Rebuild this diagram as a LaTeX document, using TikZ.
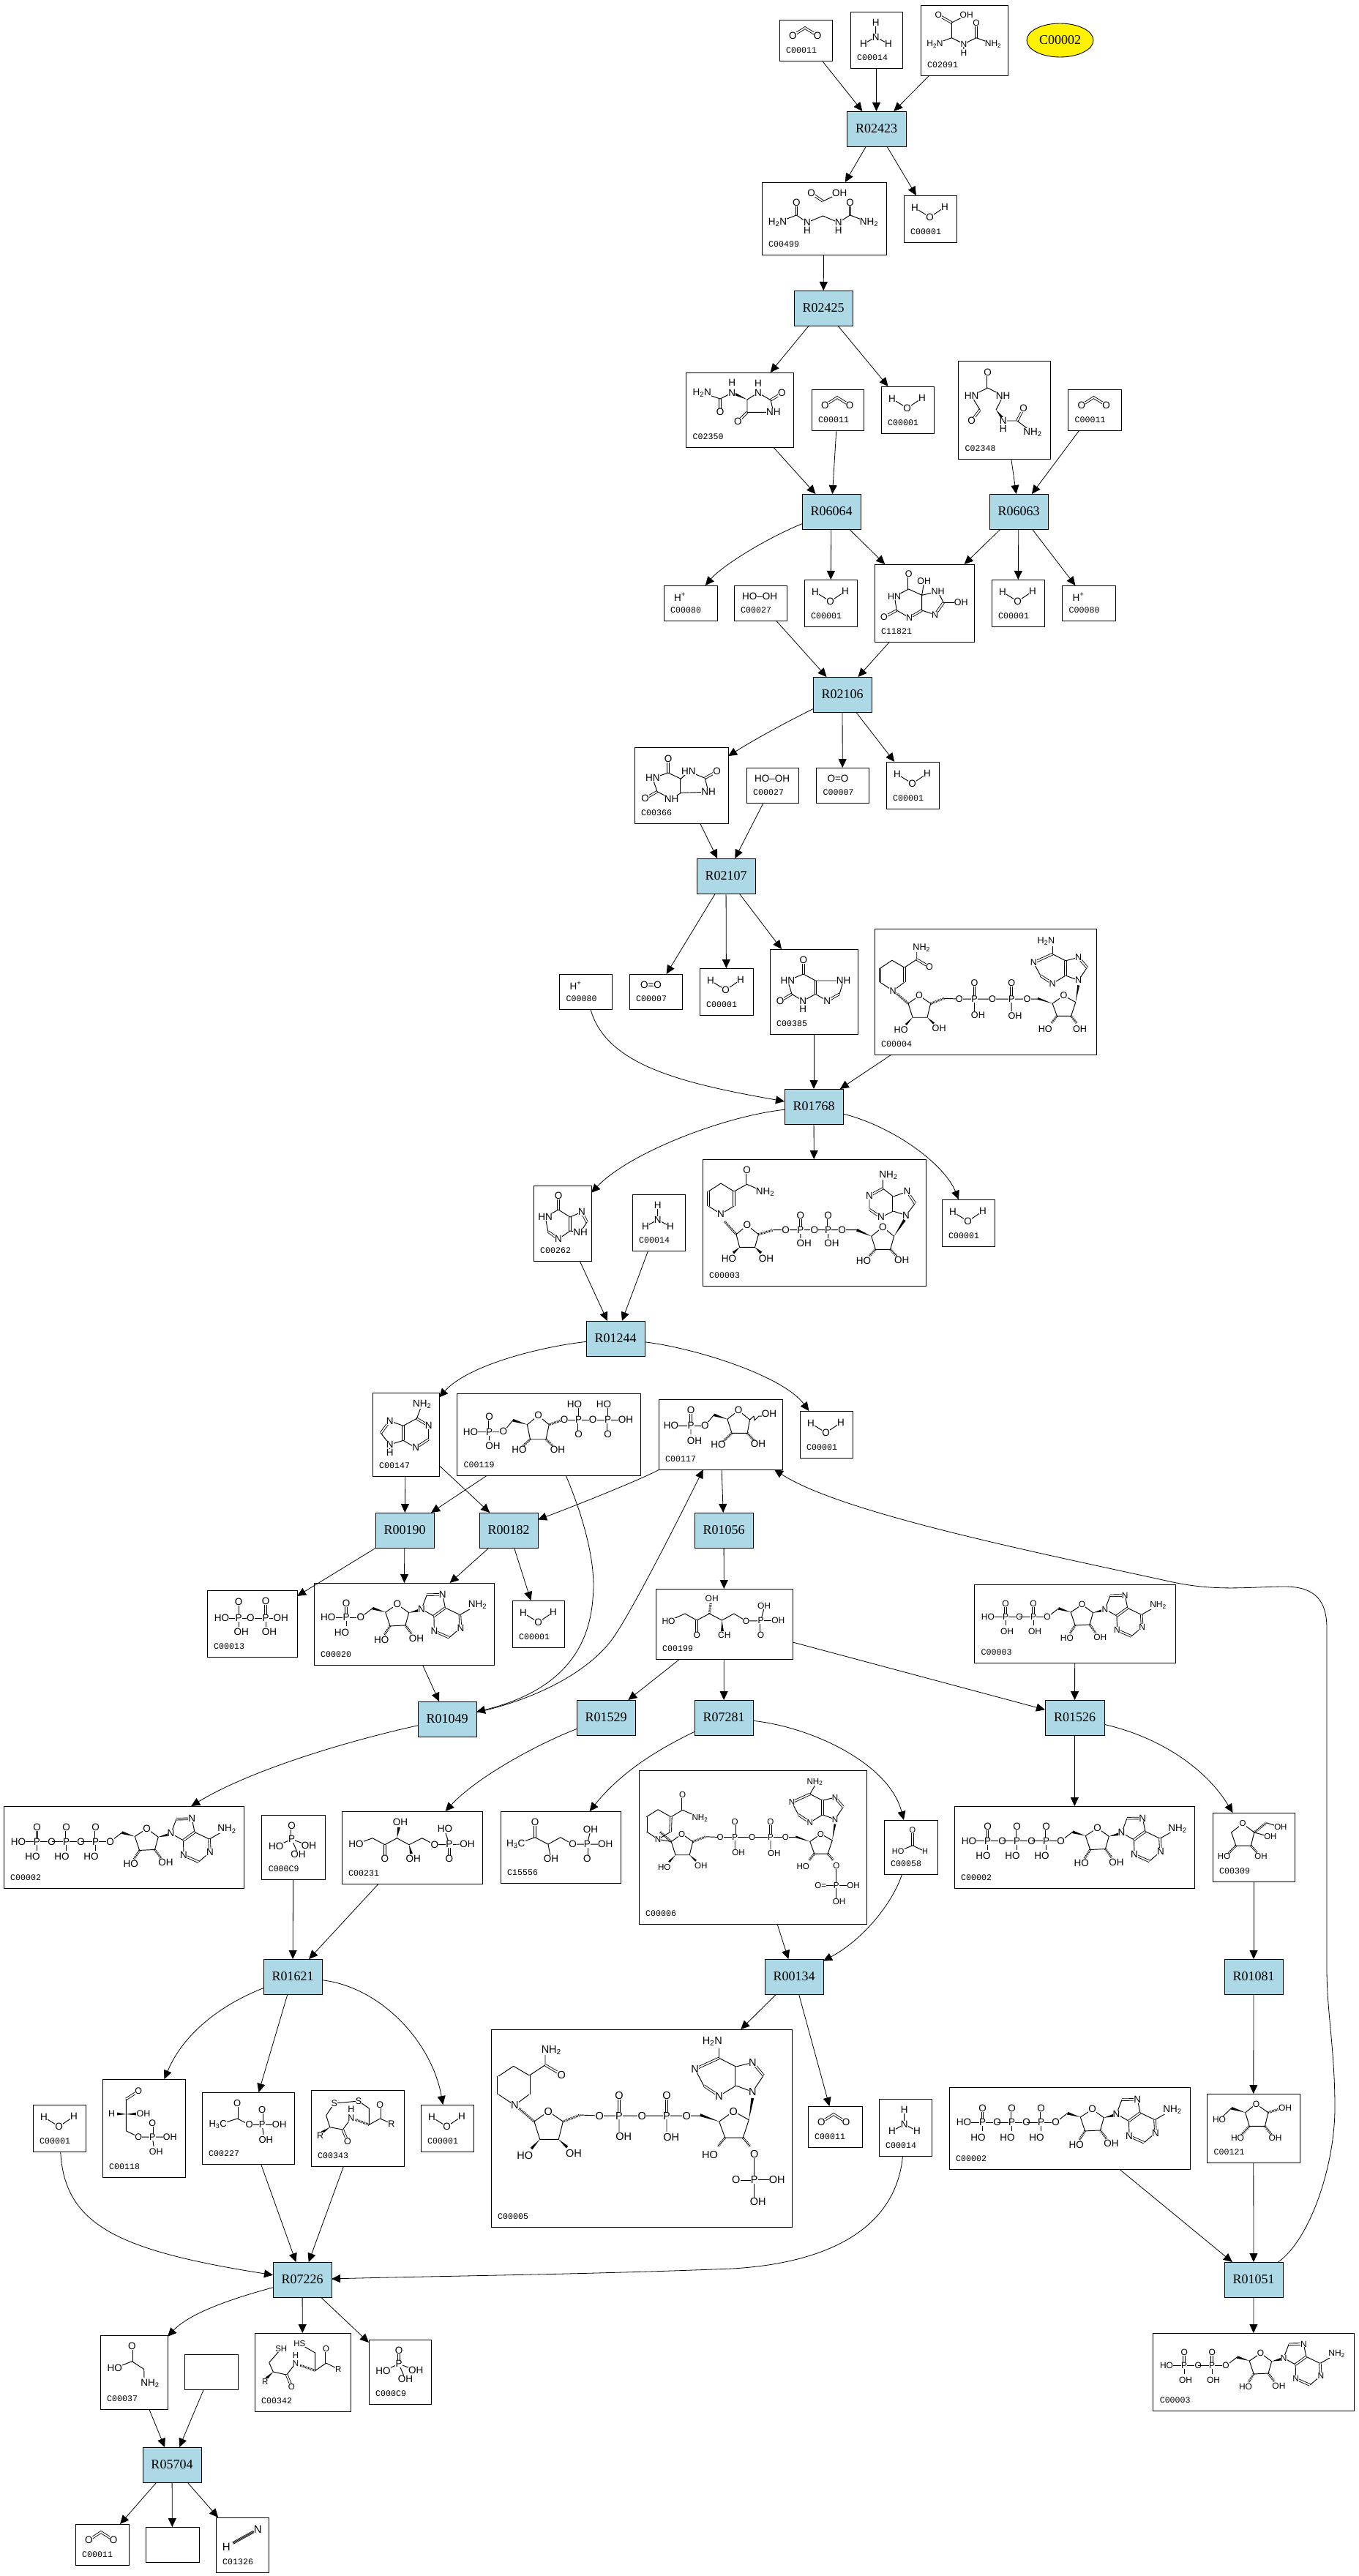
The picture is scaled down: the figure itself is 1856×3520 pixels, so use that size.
\documentclass[tikz,border=0pt]{standalone}
\usepackage{fontspec}
\setmainfont{Liberation Serif}
\newfontfamily\atomf{Liberation Sans}
\newfontfamily\lblf{Liberation Mono}
\usetikzlibrary{arrows.meta,calc,shapes.geometric}
\definecolor{rblue}{HTML}{ADD8E6}
\newcount\atc
\def\afs{13.5}
\tikzset{
 x=1pt,y=-1pt,
 cbox/.style={draw,fill=white,line width=.9pt,inner sep=0pt,outer sep=0pt},
 rbox/.style={draw,fill=rblue,line width=.9pt,inner sep=0pt,outer sep=0pt,font=\fontsize{18}{20}\selectfont},
 lbl/.style={anchor=west,inner sep=0pt,font=\lblf\fontsize{11.6}{12}\selectfont},
 atom/.style={fill=white,inner sep=.2pt,font=\atomf\fontsize{\afs}{\afs}\selectfont},
 bond/.style={line width=.95pt,line join=round},
 dbl/.style={line width=.85pt,double,double distance=1.8pt},
 hashb/.style={line width=3.2pt,dash pattern=on .8pt off 1.1pt},
 e/.style={line width=.8pt,-{Triangle[length=12pt,width=11pt]}}
}
\def\Am(#1,#2)#3{\global\advance\atc by 1\relax\node[atom] (m\the\atc) at (#1,#2) {#3};}
\newcommand\Bd[1]{\draw[bond] #1;}
\newcommand\Db[1]{\draw[dbl] #1;}
\def\Wd(#1)(#2){\fill (#1) -- ($(#2)!1.9pt!90:(#1)$) -- ($(#2)!1.9pt!-90:(#1)$) -- cycle;}
\def\Hd(#1)(#2){\draw[hashb] (#1) -- (#2);}
\newcommand\two{\textsubscript{2}}
\newcommand\Cb[7]{%
 \node[cbox,minimum width={(#4-#2)*1pt},minimum height={(#5-#3)*1pt}] (#1) at ({(#2+#4)/2},{(#3+#5)/2}) {};
 \node[lbl] (#1l) at ([shift={(9,-14)}]#1.south west) {#6};
 \def\bx{#2}\def\by{#3}#7}
\newcommand\Rb[5]{\node[rbox,minimum width={(#4-#2)*1pt},minimum height={(#5-#3)*1pt}] (#1) at ({(#2+#4)/2},{(#3+#5)/2}) {#1};}
\newcommand\Mol[4]{\begin{scope}[shift={(\bx+#2,\by+#3)},scale=#1,every node/.append style={transform shape}]#4\end{scope}}
% small molecules
\newcommand\Wat{\Mol{1}{0}{0}{\Bd{(15,17)--(35.6,29.7)--(56,16)}\Am(15,17){H}\Am(35.6,29.7){O}\Am(56,16){H}}}
\newcommand\Cot{\Mol{1}{0}{0}{\Db{(18.4,21.7)--(35,11)--(52,21.7)}\Am(18.4,21.7){O}\Am(52,21.7){O}}}
\newcommand\Nh{\Mol{1}{0}{0}{\Bd{(34.7,15)--(34.7,34.7)--(18,44) (34.7,34.7)--(52,44)}\Am(34.7,15){H}\Am(34.7,34.7){N}\Am(18,44){H}\Am(52,44){H}}}
\newcommand\Hp{\Mol{1}{0}{0}{\Am(22,15.7){H\textsuperscript{+}}}}
\newcommand\Hoh{\Mol{1}{0}{0}{\Am(35,15){HO–OH}}}
\newcommand\Oo{\Mol{1}{0}{0}{\Am(29.5,15){O=O}}}
\newcommand\PhosI{\Mol{1}{0}{0}{\Db{(41,15)--(41,33.3)}\Bd{(41,33.3)--(19.6,42.7) (41,33.3)--(64.3,41.7) (41,33.3)--(50,54.3)}\Am(41,15){O}\Am(41,33.3){P}\Am(19.6,42.7){HO}\Am(64.3,41.7){OH}\Am(50,54.3){OH}}}
% ATP family
\newcommand\PhU[3]{%
 \Bd{(#1-20,47.1)--(#1+20,47.1) (#1,47.1)--(#1,59)}\Db{(#1,47.1)--(#1,30)}
 \Am(#1,47.1){P}\Am(#1,27.5){O}\Am(#1+#3,67.5){#2}\Am(#1+20,47.1){O}}
\newcommand\RibAde{%
 \Bd{(145.5,47.1)--(161.7,34.6)}\Wd(179.3,40)(161.7,34.6)
 \Bd{(179.3,40)--(195.5,29.2)--(211.3,40.7)--(206.5,57.9)--(185.6,58.9)--cycle}
 \Hd(185.6,58.9)(178,70.7)\Hd(206.5,57.9)(215,69.6)\Wd(211.3,40.7)(225,37.5)
 \Bd{(228.6,35.7)--(236,16.1) (257.3,15.8)--(261,34) (228.6,35.7)--(245.5,45.3) (261,34)--(281,43.6)--(305,29.9) (282,61.4)--(266.4,74.7) (246,65.7)--(245.5,45.3)}
 \Db{(236,16.1)--(257.3,15.8)}\Db{(261,34)--(245.5,45.3)}\Db{(281,43.6)--(282,61.4)}\Db{(266.4,74.7)--(246,65.7)}
 \Am(145.5,47.1){O}\Am(195.5,29.2){O}\Am(173.8,77.5){HO}\Am(221.6,75.8){OH}\Am(228.6,35.7){N}\Am(257.3,15.8){N}\Am(305,29.9){NH\two}\Am(282,61.4){N}\Am(246,65.7){N}}
\newcommand\Atp[1]{\Mol{1}{0}{#1}{\PhU{45.5}{HO}{-6}\PhU{85.6}{HO}{-6}\PhU{125.6}{HO}{-6}\Am(20.1,47.1){HO}\RibAde}}
\newcommand\Adp[1]{\Mol{.95}{-38.7}{#1}{\def\afs{12.6}\PhU{85.6}{OH}{2}\PhU{125.6}{OH}{2}\Am(60.1,47.1){HO}\RibAde}}
% NAD family
\newcommand\NadCore[1]{%
 \Bd{(59,126)--(78.3,112)--(98.3,126)--(92.3,150.3)--(66.7,150.3)--cycle}
 \Hd(59,126)(38,108)\Wd(66.7,150.3)(55,163)\Wd(92.3,150.3)(104,161)\Hd(98.3,126)(121.7,117)
 \Bd{(121.7,117)--(148.3,118)--(285.7,118) (175,118)--(175,140) (240,118)--(240,140)}
 \Db{(175,118)--(175,95)}\Db{(240,118)--(240,95)}
 \Wd(311.7,126)(285.7,117)
 \Bd{(311.7,126)--(331.3,112)--(352.3,123.7)--(344.3,148)--(319.7,148)--cycle}
 \Hd(319.7,148)(310,160)\Hd(344.3,148)(354,160)\Wd(352.3,123.7)(357.3,94)
 \Bd{(357.3,85.3)--(334.7,77) (334.7,51)--(357.3,45.3) (372.3,63)--(357.3,85.3) (334.7,51)--(311.7,39.3) (311.7,91)--(334.7,77) (290.7,77)--(278.7,54.3)}
 \Db{(334.7,77)--(334.7,51)}\Db{(357.3,45.3)--(372.3,63)}\Db{(311.7,39.3)--(278.7,54.3)}\Db{(311.7,91)--(290.7,77)}
 #1
 \Am(78.3,112){O}\Am(46.3,172){HO}\Am(113,169.7){OH}\Am(148.3,118){O}\Am(175,118){P}\Am(175,90.3){O}\Am(181.3,146.3){OH}\Am(206.3,118){O}\Am(240,118){P}\Am(240,90.3){O}\Am(246.3,147){OH}\Am(267.3,118){O}\Am(331.3,112){O}\Am(299,171){HO}
 \Am(357.3,85.3){N}\Am(357.3,45.3){N}\Am(311.7,91){N}\Am(278.7,54.3){N}}
\newcommand\NicDi{%
 \Bd{(52.3,63)--(30.7,50.3)--(9.7,64.3) (9.7,88.7)--(32.3,103.7)--(52.3,88.7) (52.3,63)--(74,48.7)--(74,35)}
 \Db{(52.3,88.7)--(52.3,63)}\Db{(9.7,64.3)--(9.7,88.7)}\Db{(74,48.7)--(96.3,62)}
 \Am(96.3,62){O}\Am(82.3,28.7){NH\two}\Am(32.3,103.7){N}}
\begin{document}
\begin{tikzpicture}
\useasboundingbox (0,0) rectangle (1856,3520);
% ---- reactions
\Rb{R02423}{1157}{152}{1238}{200}
\Rb{R02425}{1085}{397}{1165}{445}
\Rb{R06064}{1096}{675}{1176}{723}
\Rb{R06063}{1352}{675}{1432}{723}
\Rb{R02106}{1111}{925}{1191}{973}
\Rb{R02107}{952}{1173}{1032}{1221}
\Rb{R01768}{1072}{1488}{1152}{1536}
\Rb{R01244}{801}{1805}{881}{1853}
\Rb{R00190}{513}{2067}{593}{2115}
\Rb{R00182}{655}{2067}{735}{2115}
\Rb{R01056}{949}{2067}{1029}{2115}
\Rb{R01049}{571}{2325}{651}{2373}
\Rb{R01529}{788}{2323}{868}{2371}
\Rb{R07281}{949}{2323}{1029}{2371}
\Rb{R01526}{1428}{2323}{1509}{2371}
\Rb{R01081}{1673}{2677}{1753}{2725}
\Rb{R01621}{360}{2677}{440}{2725}
\Rb{R00134}{1045}{2677}{1125}{2725}
\Rb{R07226}{373}{3091}{453}{3139}
\Rb{R01051}{1673}{3091}{1753}{3139}
\Rb{R05704}{195}{3344}{275}{3392}
\node[ellipse,draw,fill=yellow,line width=.9pt,inner sep=0pt,minimum width=91pt,minimum height=46pt,font=\fontsize{18}{20}\selectfont] (C00002e) at (1448.5,55) {C00002};
% ---- compounds
\Cb{Ca}{1065}{27}{1137}{83}{C00011}{\Cot}
\Cb{Cb}{1162}{16}{1233}{93}{C00014}{\Nh}
\Cb{Cc}{1258}{7}{1377}{103}{C02091}{\Mol{1}{0}{0}{%
 \Db{(24.4,13.7)--(42.4,24)}\Db{(76,44.7)--(76,24.7)}
 \Bd{(62.7,13.7)--(42.4,24)--(42.4,44.7)--(19.5,53) (42.4,44.7)--(58.9,53)--(76,44.7)--(99,53) (58.9,53)--(58.9,60)}
 \def\afs{12}\Am(24.4,13.7){O}\Am(62.7,13.7){OH}\Am(76,24.7){O}\Am(19.5,53){H\two N}\Am(58.9,53){N}\Am(58.9,65){H}\Am(99,53){NH\two}}}
\Cb{Cd}{1041}{249}{1211}{348}{C00499}{\Mol{1}{0}{0}{%
 \Db{(67.7,15)--(83.4,26)}\Db{(47.4,27.7)--(47.4,45)}\Db{(120.5,27.7)--(120.5,45)}
 \Bd{(83.4,26)--(106.3,15) (21.4,55)--(47.4,45)--(62,55)--(83.4,46)--(104.8,55)--(120.5,45)--(146.5,55)}
 \Am(67.7,15){O}\Am(106.3,15){OH}\Am(47.4,27.7){O}\Am(120.5,27.7){O}\Am(21.4,55){H\two N}\Am(62,55){N}\Am(62,66){H}\Am(104.8,55){N}\Am(104.8,66){H}\Am(146.5,55){NH\two}}}
\Cb{Ce}{1235}{267}{1307}{331}{C00001}{\Wat}
\Cb{Cf}{937.5}{509}{1084}{611}{C02350}{\Mol{1}{0}{0}{%
 \Db{(46.7,36)--(46.7,54.3)}\Db{(115.6,37.7)--(130.9,28.3)}\Db{(83.5,54.3)--(70.8,67)}
 \Bd{(21.8,27.7)--(46.7,36)--(62.8,27.7) (83.5,37)--(98.4,27.7)--(115.6,37.7)--(119.4,54.3)--(83.5,54.3)--(83.5,37)}
 \Wd(83.5,37)(66,29)
 \Am(21.8,27.7){H\two N}\Am(46.7,54.3){O}\Am(62.8,27.7){N}\Am(62.8,14.3){H}\Am(98.4,27.7){N}\Am(98.4,15){H}\Am(130.9,28.3){O}\Am(119.4,54.3){NH}\Am(70.8,67){O}}}
\Cb{Cg}{1109}{532}{1180}{588}{C00011}{\Cot}
\Cb{Ch}{1204}{528}{1276}{592}{C00001}{\Wat}
\Cb{Ci}{1309.5}{493}{1435}{627}{C02348}{\Mol{1}{0}{0}{%
 \Db{(40.2,16.3)--(40.2,37)}\Db{(29.5,67)--(18,82)}\Db{(80.4,82)--(89.2,64.7)}
 \Bd{(18,48)--(40.2,37)--(61.2,48)--(51.6,67) (18,48)--(29.5,67) (61.2,82)--(80.4,82)--(101.4,98)}
 \Wd(51.6,67)(60,78)
 \Am(40.2,16.3){O}\Am(18,48){HN}\Am(61.2,48){NH}\Am(18,82){O}\Am(61.2,82){N}\Am(61.2,93){H}\Am(89.2,64.7){O}\Am(101.4,98){NH\two}}}
\Cb{Cj}{1459.5}{532}{1532}{588}{C00011}{\Cot}
\Cb{Ck}{907}{800}{980}{848}{C00080}{\Hp}
\Cb{Cl}{1003}{800}{1075}{848}{C00027}{\Hoh}
\Cb{Cm}{1099}{792}{1171}{856}{C00001}{\Wat}
\Cb{Cn}{1195}{771}{1331}{877}{C11821}{\Mol{1}{0}{0}{\def\afs{12.5}%
 \Db{(46.7,13.3)--(46.7,34)}\Db{(30.3,63)--(13,72.3)}\Db{(47.5,73)--(64.7,63)}\Db{(94.2,52.3)--(82.7,69)}
 \Bd{(46.7,34)--(27.2,44)--(30.3,63)--(47.5,73) (64.7,63)--(64.7,42.3)--(46.7,34) (64.7,42.3)--(67.8,23.3) (64.7,42.3)--(86.6,37.3)--(94.2,52.3)--(118.3,52.3) (82.7,69)--(64.7,63)}
 \Am(46.7,13.3){O}\Am(27.2,44){HN}\Am(13,72.3){O}\Am(47.5,73){N}\Am(67.8,23.3){OH}\Am(86.6,37.3){NH}\Am(118.3,52.3){OH}\Am(82.7,69){N}}}
\Cb{Co}{1355}{792}{1427}{856}{C00001}{\Wat}
\Cb{Cp}{1451.5}{800}{1524}{848}{C00080}{\Hp}
\Cb{Cq}{867}{1021}{995}{1125}{C00366}{\Mol{1}{0}{0}{%
 \Db{(46,16.3)--(46,35)}\Db{(31,60.7)--(14.6,70)}\Db{(63.6,62.3)--(63.6,43.3)}\Db{(96.3,42.3)--(112.6,33)}
 \Bd{(46,35)--(24.8,42.3)--(31,60.7)--(50.6,70.7)--(63.6,62.3)--(101,61.3)--(96.3,42.3)--(73.8,33)--(63.6,43.3)--(46,35)}
 \Am(46,16.3){O}\Am(24.8,42.3){HN}\Am(14.6,70){O}\Am(50.6,70.7){NH}\Am(73.8,33){HN}\Am(112.6,33){O}\Am(101,61.3){NH}}}
\Cb{Cr}{1020}{1049}{1091}{1097}{C00027}{\Hoh}
\Cb{Cs}{1115.5}{1049}{1187}{1097}{C00007}{\Oo}
\Cb{Ct}{1211}{1041}{1283}{1105}{C00001}{\Wat}
\Cb{Cu}{764.5}{1331}{836}{1379}{C00080}{\Hp}
\Cb{Cv}{860}{1331}{932}{1379}{C00007}{\Oo}
\Cb{Cw}{956}{1323}{1029}{1387}{C00001}{\Wat}
\Cb{Cx}{1052}{1297}{1172}{1413}{C00385}{\Mol{1}{0}{0}{%
 \Db{(45.8,15)--(45.8,34)}\Db{(30,61.3)--(14,70.7)}\Db{(62.4,61.3)--(62.4,43)}\Db{(95,61.3)--(78.3,70.7)}
 \Bd{(45.8,34)--(24.3,43)--(30,61.3)--(45.2,70.7)--(62.4,61.3)--(78.3,70.7) (95,61.3)--(100.6,43)--(62.4,43)--(45.8,34)}
 \Am(45.8,15){O}\Am(24.3,43){HN}\Am(14,70.7){O}\Am(45.2,70.7){N}\Am(45.2,82.3){H}\Am(100.6,43){NH}\Am(78.3,70.7){N}}}
\Cb{Cy}{1195}{1269}{1498}{1441}{C00004}{\Mol{.78}{0}{4}{\def\afs{16.2}\NadCore{}\NicDi\Am(300.6,16.3){H\two N}\Bd{(311.7,39.3)--(311.7,26)}\Am(359.7,170.3){OH}}}
\Cb{Cz}{960}{1584}{1265}{1757}{C00003}{\Mol{1}{0}{0}{%
 \Bd{(43,44)--(25,33)--(8,44) (8,64)--(25,75)--(43,64) (43,44)--(60.6,34.3)--(85.4,45)}
 \Db{(43,44)--(43,64)}\Db{(8,44)--(8,64)}\Db{(60.6,15)--(60.6,34.3)}
 \Bd{(46,102.7)--(60.9,90.3)--(76.5,102.7)--(71.5,120.3)--(50.6,120.3)--cycle (96.4,96.7)--(113.6,96.7)--(210.8,96.7) (133.9,96.7)--(133.9,108) (171.7,96.7)--(171.7,108)}
 \Db{(133.9,96.7)--(133.9,80)}\Db{(171.7,96.7)--(171.7,80)}
 \Hd(46,102.7)(30,85)\Hd(76.5,102.7)(96.4,96.7)\Wd(50.6,120.3)(42,128)\Wd(71.5,120.3)(80,128)
 \Wd(230.7,105.3)(210.8,96.7)
 \Bd{(230.7,105.3)--(246.3,92.7)--(261.6,105.3)--(256.6,123.3)--(236.3,123.3)--cycle}
 \Hd(236.3,123.3)(228,132)\Hd(256.6,123.3)(265,132)\Wd(261.6,105.3)(276,83)
 \Bd{(278.1,76.7)--(260.6,71) (279.5,44.3)--(260.6,51) (290.4,60.3)--(278.1,76.7) (260.6,51)--(246.3,40)--(246.3,28) (244,79.3)--(260.6,71) (228,68.7)--(228,50)}
 \Db{(260.6,71)--(260.6,51)}\Db{(279.5,44.3)--(290.4,60.3)}\Db{(246.3,40)--(228,50)}\Db{(244,79.3)--(228,68.7)}
 \Am(60.6,15){O}\Am(85.4,45){NH\two}\Am(25,75){N}\Am(60.9,90.3){O}\Am(36,136){HO}\Am(87,136){OH}
 \Am(113.6,96.7){O}\Am(133.9,96.7){P}\Am(133.9,76.7){O}\Am(138.8,115.3){OH}\Am(152.8,96.7){O}\Am(171.7,96.7){P}\Am(171.7,76.7){O}\Am(176.6,115.3){OH}\Am(190.6,96.7){O}
 \Am(246.3,92.7){O}\Am(220,139.3){HO}\Am(272.2,138.3){OH}\Am(278.1,76.7){N}\Am(279.5,44.3){N}\Am(244,79.3){N}\Am(228,50){N}\Am(253.9,21.7){NH\two}}}
\Cb{Daa}{1287}{1639}{1359}{1703}{C00001}{\Wat}
\Cb{Dab}{729}{1620}{808}{1723}{C00262}{\Mol{1}{0}{0}{%
 \Db{(34,14)--(34,33)}\Db{(50,62)--(50,43)}\Db{(20,63)--(34,73)}\Db{(66,36)--(73,50)}
 \Bd{(34,33)--(16,43)--(20,63) (34,73)--(50,62) (50,43)--(34,33) (50,43)--(66,36) (73,50)--(64,64)--(50,62)}
 \Am(34,14){O}\Am(16,43){HN}\Am(34,73){N}\Am(66,36){N}\Am(64,64){NH}}}
\Cb{Dac}{864}{1632}{936}{1709}{C00014}{\Nh}
\Cb{Dad}{509}{1903}{600}{2017}{C00147}{\Mol{1}{0}{0}{%
 \Db{(60.4,35.3)--(76.7,45.3)}\Db{(76.7,63.7)--(59.2,75.3)}\Db{(42,65.3)--(42,45.3)}\Db{(23.7,38.7)--(11.4,55.3)}
 \Bd{(67.7,16)--(60.4,35.3)--(42,45.3)--(23.7,38.7) (76.7,45.3)--(76.7,63.7) (59.2,75.3)--(42,65.3)--(23.7,71)--(11.4,55.3) (23.7,71)--(23.7,82)}
 \Am(67.7,16){NH\two}\Am(76.7,45.3){N}\Am(59.2,75.3){N}\Am(23.7,38.7){N}\Am(23.7,71){N}\Am(23.7,82){H}}}
\Cb{Dae}{624.5}{1904}{875}{2016}{C00119}{\Mol{1}{0}{0}{%
 \Bd{(18.4,52.7)--(63.3,52.7)--(76.3,36.7) (44.1,52.7)--(44.1,64)}\Db{(44.1,52.7)--(44.1,34)}
 \Wd(95.9,42.7)(76.3,36.7)
 \Bd{(95.9,42.7)--(111,30.3)--(125.7,42.7)--(121.6,62.7)--(100,62.7)--cycle}
 \Hd(100,62.7)(90,72)\Hd(121.6,62.7)(131,72)\Hd(125.7,42.7)(142,37)
 \Bd{(146.5,36)--(230.6,36) (166.1,36)--(166.1,20) (206.1,36)--(206.1,20)}
 \Db{(166.1,36)--(166.1,56)}\Db{(206.1,36)--(206.1,56)}
 \Am(18.4,52.7){HO}\Am(44.1,52.7){P}\Am(44.1,32){O}\Am(49,72){OH}\Am(63.3,52){O}\Am(111,30.3){O}\Am(84.9,77){HO}\Am(137.5,77){OH}\Am(146.5,36){O}\Am(166.1,36){P}\Am(160.4,15.3){HO}\Am(166.1,56){O}\Am(185.7,36){O}\Am(206.1,36){P}\Am(200.4,15.3){HO}\Am(206.1,56){O}\Am(230.6,36){OH}}}
\Cb{Daf}{900}{1912}{1069}{2008}{C00117}{\Mol{1}{0}{0}{%
 \Bd{(17.1,36.3)--(63.3,36.3)--(75.5,21.3) (44,36.3)--(44,48)}\Db{(44,36.3)--(44,18)}
 \Wd(93.9,27.3)(75.5,21.3)
 \Bd{(93.9,27.3)--(109,15.3)--(124.5,28)--(121.2,46.3)--(100,46.3)--cycle}
 \Hd(100,46.3)(88,58)\Hd(121.2,46.3)(131,57)
 \draw[bond] (124.5,28)--(130,23)--(131,29)--(137,23)--(141,23);
 \Am(17.1,36.3){HO}\Am(44,36.3){P}\Am(44,15.3){O}\Am(49,57){OH}\Am(63.3,36.3){O}\Am(109,15.3){O}\Am(151,20){OH}\Am(81.6,62){HO}\Am(135.9,61.3){OH}}}
\Cb{Dag}{1093}{1928}{1165}{1992}{C00001}{\Wat}
\Cb{Dah}{283}{2173}{406}{2264}{C00013}{\Mol{1}{0}{0}{%
 \Bd{(20,38.3)--(100.7,38.3) (43,38.3)--(43,15.7) (43,38.3)--(43,50) (80,38.3)--(80,50)}\Db{(80,38.3)--(80,19)}
 \Am(20,38.3){HO}\Am(43,38.3){P}\Am(43,15.7){O}\Am(46.7,56.7){OH}\Am(59.4,38.3){O}\Am(80,38.3){P}\Am(80,15){O}\Am(85,56.7){OH}\Am(100.7,38.3){OH}}}
\Cb{Dai}{429}{2163}{675}{2275}{C00020}{\Mol{1}{-81.6}{0}{\PhU{125.6}{HO}{-6}\Am(100.8,47.1){HO}\RibAde}}
\Cb{Daj}{700}{2187}{771}{2251}{C00001}{\Wat}
\Cb{Dak}{896}{2171}{1083}{2267}{C00199}{\Mol{1}{0}{0}{\def\afs{12}%
 \Bd{(17.5,44)--(39.9,34)--(56.2,43)--(73.4,34)--(90.5,43)--(106.9,34)--(123.6,44)--(167.3,43.3) (143.6,43.3)--(148,27)}
 \Db{(56.2,43)--(56.2,63.3)}\Db{(143.6,43.3)--(143.6,63.3)}
 \Hd(73.4,34)(75,20)\Wd(90.5,43)(91,58)
 \Am(17.5,44){HO}\Am(56.2,63.3){O}\Am(76.7,13.3){OH}\Am(93.8,63.3){CH}\Am(123.6,44){O}\Am(143.6,43.3){P}\Am(148,23.3){OH}\Am(167.3,43.3){OH}\Am(143.6,63.3){O}}}
\Cb{Dal}{5}{2468}{333.5}{2580}{C00002}{\Atp{1.5}}
\Cb{Dam}{357.6}{2480}{444}{2568}{C000C9}{\PhosI}
\Cb{Dan}{467}{2475}{659}{2574}{C00231}{\Mol{1}{0}{0}{%
 \Bd{(19.6,45)--(41.9,36.7)--(58.9,45.7)--(75.4,36.7)--(91.9,45.7)--(109.8,36.7)--(126.8,45.7) (126.8,45.7)--(171.4,45) (146.8,45)--(142,30)}
 \Db{(58.9,45.7)--(58.9,65)}\Db{(146.8,45)--(146.8,65)}
 \Wd(75.4,36.7)(78,22)\Wd(91.9,45.7)(95,58)
 \Am(19.6,45){HO}\Am(58.9,65){O}\Am(79.9,15){OH}\Am(97.7,65){OH}\Am(126.8,45.7){O}\Am(146.8,45){P}\Am(141,24.3){HO}\Am(171.4,45){OH}\Am(146.8,65){O}}}
\Cb{Dao}{684}{2475}{848}{2573}{C15556}{\Mol{1}{0}{0}{%
 \Db{(47.1,15)--(47.1,35.7)}\Db{(118.3,45)--(118.3,65)}
 \Bd{(20.7,45)--(47.1,35.7)--(64.9,45)--(81.9,35.7)--(98.5,45)--(143.2,45) (64.9,45)--(68.9,65) (118.3,45)--(122,30)}
 \Am(47.1,15){O}\Am(20.7,45){H\textsubscript{3}C}\Am(68.9,65){OH}\Am(98.5,45){O}\Am(118.3,45){P}\Am(123,25){OH}\Am(143.2,45){OH}\Am(118.3,65){O}}}
\Cb{Dap}{873}{2419}{1184}{2629}{C00006}{\Mol{.75}{0}{3}{\def\afs{15.5}%
 \NadCore{\Bd{(58.5,80.9)--(34.8,67.6) (13.7,107.6)--(34.8,121.7) (58.5,80.9)--(79.6,68.4)--(111.2,82.7) (57.5,108.4)--(34.8,121.7) (13.7,80.9)--(34.8,67.6)}\Db{(58.5,80.9)--(57.5,108.4)}\Db{(13.7,80.9)--(13.7,107.6)}\Db{(79.6,40.4)--(79.6,68.4)}\Bd{(59,126)--(34.8,121.7)}\Bd{(311.7,39.3)--(320.5,24)}\Bd{(359.7,170.3)--(359.7,235) (334.7,205.3)--(390.7,205.3)}}
 \Am(79.6,40.4){O}\Am(111.2,82.7){NH\two}\Am(34.8,121.7){N}\Am(320.5,17.3){NH\two}\Am(359.7,170.3){O}\Am(359.7,205.3){P}\Am(331,205.3){O=}\Am(390.7,205.3){OH}\Am(364.7,235.3){OH}}}
\Cb{Daq}{1208}{2487}{1281}{2561}{C00058}{\Mol{1}{0}{0}{\def\afs{11}%
 \Db{(39,13.7)--(39,34.7)}\Bd{(19.2,43)--(39,34.7)--(56,43)}\Am(39,13.7){O}\Am(19.2,43){HO}\Am(56,43){H}}}
\Cb{Dar}{1331.5}{2165}{1606}{2272}{C00003}{\Adp{0}}
\Cb{Das}{1304}{2468}{1632.6}{2580}{C00002}{\Atp{0.6}}
\Cb{Dat}{1657}{2477}{1769}{2571}{C00309}{\Mol{1}{0}{0}{\def\afs{11.5}%
 \Bd{(41,14.8)--(25.6,26.9)--(31.8,45)--(52.4,45)--(56.8,26.9)--(41,14.8) (56.8,26.9)--(78.9,33) (73.4,13.7)--(92.9,20)}
 \Hd(56.8,26.9)(73.4,13.7)\Hd(31.8,45)(22,55)\Hd(52.4,45)(61,55)
 \Am(41,14.8){O}\Am(92.9,20){OH}\Am(78.9,33){OH}\Am(15.6,60){HO}\Am(66,60){OH}}}
\Cb{Dau}{671}{2773}{1082}{3043}{C00005}{\Mol{1}{0}{0}{\def\afs{14.5}%
 \NadCore{\Bd{(311.7,39.3)--(311.7,26) (359.7,170.3)--(359.7,235) (348,205.3)--(390.7,205.3)}\Db{(334.7,205.3)--(359.7,205.3)}}\NicDi
 \Am(302.3,16.3){H\two N}\Am(359.7,170.3){O}\Am(359.7,205.3){P}\Am(334.7,205.3){O}\Am(390.7,205.3){OH}\Am(364.7,235.3){OH}}}
\Cb{Dav}{140}{2841}{253}{2975}{C00118}{\Mol{1}{0}{0}{\def\afs{12.5}%
 \Db{(32.3,27.3)--(49.3,16.3)}\Db{(68.3,79)--(68.3,60)}
 \Bd{(32.3,27.3)--(32.3,70.7)--(49.3,79)--(92.3,79) (68.3,79)--(70,92)}
 \Wd(32.3,48)(20,47.5)\Wd(32.3,48)(46,47.5)
 \Am(49.3,16.3){O}\Am(12.7,47.3){H}\Am(56,47.3){OH}\Am(49.3,79){O}\Am(68.3,79){P}\Am(68.3,60){O}\Am(92.3,79){OH}\Am(73.3,99){OH}}}
\Cb{Daw}{276}{2859}{402}{2957}{C00227}{\Mol{1}{0}{0}{\def\afs{13}%
 \Db{(48.3,15)--(48.3,36)}\Db{(82.3,44.3)--(82.3,24.3)}
 \Bd{(21.7,44.3)--(48.3,36)--(64.7,44.3)--(105.7,44.3) (82.3,44.3)--(84,58)}
 \Am(48.3,15){O}\Am(21.7,44.3){H\textsubscript{3}C}\Am(64.7,44.3){O}\Am(82.3,44.3){P}\Am(82.3,24.3){O}\Am(105.7,44.3){OH}\Am(87.3,65){OH}}}
\Cb{Dax}{425}{2856}{552}{2960}{C00343}{\Mol{1}{0}{0}{\def\afs{12.5}%
 \Bd{(31.7,18)--(65,15) (31.7,18)--(20.7,34.7)--(25.7,50.7)--(43.3,54)--(55,38.3) (65,15)--(79.3,25)--(79.3,47.3)--(94.3,39)--(110,45.7)}
 \Db{(43.3,54)--(50,70)}\Db{(94.3,39)--(94.3,20)}
 \Wd(25.7,50.7)(15,58)\Hd(79.3,47.3)(60,40)
 \Am(31.7,18){S}\Am(65,15){S}\Am(12.7,61.7){R}\Am(50,70){O}\Am(55,38.3){N}\Am(55,25.7){H}\Am(94.3,20){O}\Am(110,45.7){R}}}
\Cb{Day}{45}{2876}{117}{2940}{C00001}{\Wat}
\Cb{Daz}{575}{2876}{647}{2940}{C00001}{\Wat}
\Cb{Dba}{1104}{2878}{1178}{2934}{C00011}{\Cot}
\Cb{Dbb}{1201}{2868}{1273}{2946}{C00014}{\Nh}
\Cb{Dbc}{1297}{2852}{1626}{2964}{C00002}{\Atp{1}}
\Cb{Dbd}{1649.5}{2861}{1776}{2955}{C00121}{\Mol{1}{0}{0}{\def\afs{12}%
 \Bd{(16.5,35.7)--(33.1,19.7) (52.2,25.7)--(66.9,14)--(83.4,25.7)--(79,44.3)--(57.7,44.3)--(52.2,25.7)}
 \Wd(52.2,25.7)(33.1,19.7)\Hd(83.4,25.7)(98,21)\Hd(57.7,44.3)(47,56)\Hd(79,44.3)(88,56)
 \Am(16.5,35.7){HO}\Am(66.9,14){O}\Am(106.6,19.7){OH}\Am(41.5,60.7){HO}\Am(93,60.7){OH}}}
\Cb{Dbe}{1575.6}{3188}{1850}{3294}{C00003}{\Adp{0}}
\Cb{Dbf}{137}{3191}{229}{3292}{C00037}{\Mol{1}{0}{0}{%
 \Db{(43.3,15)--(43.3,35.7)}\Bd{(19.7,45)--(43.3,35.7)--(59.7,46.3)--(60,58)}
 \Am(43.3,15){O}\Am(19.7,45){HO}\Am(68,65.7){NH\two}}}
\node[cbox,minimum width=73pt,minimum height=48pt] (Blanka) at (288.5,3241) {};
\Cb{Dbg}{348}{3188}{479}{3295}{C00342}{\Mol{1}{0}{0}{\def\afs{11.5}%
 \Bd{(36.3,21.3)--(19.7,40.3)--(25.3,53)--(43.7,57)--(56,41.3) (61.3,14.7)--(82.7,27)--(82.7,51.3)--(97.7,41)--(114.3,49.3)}
 \Db{(43.7,57)--(50.3,73)}\Db{(97.7,41)--(97.7,21.3)}
 \Wd(25.3,53)(16,62)\Hd(82.7,51.3)(62,44)
 \Am(36.3,21.3){SH}\Am(61.3,14.7){HS}\Am(14.3,66.3){R}\Am(50.3,73){O}\Am(56,41.3){N}\Am(56,30.3){H}\Am(97.7,21.3){O}\Am(114.3,49.3){R}}}
\Cb{Dbh}{504}{3197}{589}{3285}{C000C9}{\PhosI}
\Cb{Dbi}{103}{3449}{176}{3505}{C00011}{\Cot}
\node[cbox,minimum width=73pt,minimum height=48pt] (Blankb) at (235.5,3477) {};
\Cb{Dbj}{295}{3440}{367}{3515}{C01326}{\Mol{1}{0}{0}{\def\afs{15}%
 \Db{(23.3,35)--(51.7,19.3)}\Bd{(23.3,35)--(51.7,19.3)}\Am(14.3,40.7){H}\Am(57.3,16){N}}}
% ---- connectors
\draw[e] (Ca)--(R02423);
\draw[e] (Cb)--(R02423);
\draw[e] (Cc)--(R02423);
\draw[e] (R02423)--(Cd);
\draw[e] (R02423)--(Ce);
\draw[e] (Cd)--(R02425);
\draw[e] (R02425)--(Cf);
\draw[e] (R02425)--(Ch);
\draw[e] (Cf)--(R06064);
\draw[e] (Cg)--(R06064);
\draw[e] (Ci)--(R06063);
\draw[e] (Cj)--(R06063);
\draw[e] (R06064) .. controls (1040,739) and (985,775) .. (Ck);
\draw[e] (R06064)--(Cm);
\draw[e] (R06064)--(Cn);
\draw[e] (R06063)--(Cn);
\draw[e] (R06063)--(Co);
\draw[e] (R06063)--(Cp);
\draw[e] (Cl)--(R02106);
\draw[e] (Cn)--(R02106);
\draw[e] (R02106) .. controls (1088,980) and (1040,1005) .. (Cq);
\draw[e] (R02106)--(Cs);
\draw[e] (R02106)--(Ct);
\draw[e] (Cq)--(R02107);
\draw[e] (Cr)--(R02107);
\draw[e] (R02107)--(Cv);
\draw[e] (R02107)--(Cw);
\draw[e] (R02107)--(Cx);
\draw[e] (Cu) .. controls (828,1455) and (930,1480) .. (R01768);
\draw[e] (Cx)--(R01768);
\draw[e] (Cy)--(R01768);
\draw[e] (R01768) .. controls (990,1525) and (860,1575) .. (Dab);
\draw[e] (R01768)--(Cz);
\draw[e] (R01768) .. controls (1220,1539) and (1290,1590) .. (Daa);
\draw[e] (Dab)--(R01244);
\draw[e] (Dac)--(R01244);
\draw[e] (R01244) .. controls (740,1840) and (640,1865) .. (Dad);
\draw[e] (R01244) .. controls (950,1842) and (1070,1880) .. (Dag);
\draw[e] (Dad)--(R00190);
\draw[e] (Dae)--(R00190);
\draw[e] (Dad)--(R00182);
\draw[e] (Daf) .. controls (880,2020) and (780,2060) .. (R00182);
\draw[e] (Daf)--(R01056);
\draw[e] (R00190)--(Dah);
\draw[e] (R00190)--(Dai);
\draw[e] (R00182)--(Dai);
\draw[e] (R00182)--(Daj);
\draw[e] (R01056)--(Dak);
\draw[e] (Dae) .. controls (800,2080) and (815,2140) .. (810,2185) .. controls (805,2250) and (770,2310) .. (R01049);
\draw[e] (R01049) .. controls (740,2320) and (810,2280) .. (840,2235) .. controls (870,2190) and (935,2060) .. (Daf);
\draw[e] (Dai)--(R01049);
\draw[e] (R01049) .. controls (470,2380) and (340,2420) .. (Dal);
\draw[e] (Dak)--(R01529);
\draw[e] (Dak)--(R07281);
\draw[e] (Dak)--(R01526);
\draw[e] (Dar)--(R01526);
\draw[e] (R01526)--(Das);
\draw[e] (R01526) .. controls (1590,2375) and (1650,2420) .. (Dat);
\draw[e] (Dat)--(R01081);
\draw[e] (R01081)--(Dbd);
\draw[e] (Dbd)--(R01051);
\draw[e] (Dbc)--(R01051);
\draw[e] (R01051)--(Dbe);
\draw[e] (R01051) .. controls (1790,3060) and (1824,2960) .. (1824,2880) .. controls (1824,2800) and (1813,2750) .. (1813,2690) -- (1813,2225) .. controls (1813,2180) and (1790,2167) .. (1750,2168) .. controls (1700,2169) and (1660,2174) .. (1603,2162) .. controls (1420,2122) and (1150,2068) .. (Daf);
\draw[e] (R01529) .. controls (730,2385) and (650,2430) .. (Dan);
\draw[e] (R07281) .. controls (900,2390) and (850,2420) .. (Dao);
\draw[e] (R07281) .. controls (1110,2360) and (1215,2410) .. (Daq);
\draw[e] (Dap)--(R00134);
\draw[e] (Daq) .. controls (1220,2600) and (1180,2650) .. (R00134);
\draw[e] (Dan)--(R01621);
\draw[e] (Dam)--(R01621);
\draw[e] (R01621) .. controls (300,2740) and (250,2780) .. (Dav);
\draw[e] (R01621)--(Daw);
\draw[e] (R01621) .. controls (520,2715) and (590,2790) .. (Daz);
\draw[e] (R00134)--(Dau);
\draw[e] (R00134)--(Dba);
\draw[e] (Day) .. controls (88,3040) and (160,3075) .. (R07226);
\draw[e] (Daw)--(R07226);
\draw[e] (Dax)--(R07226);
\draw[e] (Dbb) .. controls (1225,3040) and (1140,3092) .. (1000,3100) .. controls (800,3108) and (600,3110) .. (R07226);
\draw[e] (R07226) .. controls (320,3140) and (260,3160) .. (Dbf);
\draw[e] (R07226)--(Dbg);
\draw[e] (R07226)--(Dbh);
\draw[e] (Dbf)--(R05704);
\draw[e] (Blanka)--(R05704);
\draw[e] (R05704)--(Dbi);
\draw[e] (R05704)--(Blankb);
\draw[e] (R05704)--(Dbj);
\end{tikzpicture}
\end{document}
